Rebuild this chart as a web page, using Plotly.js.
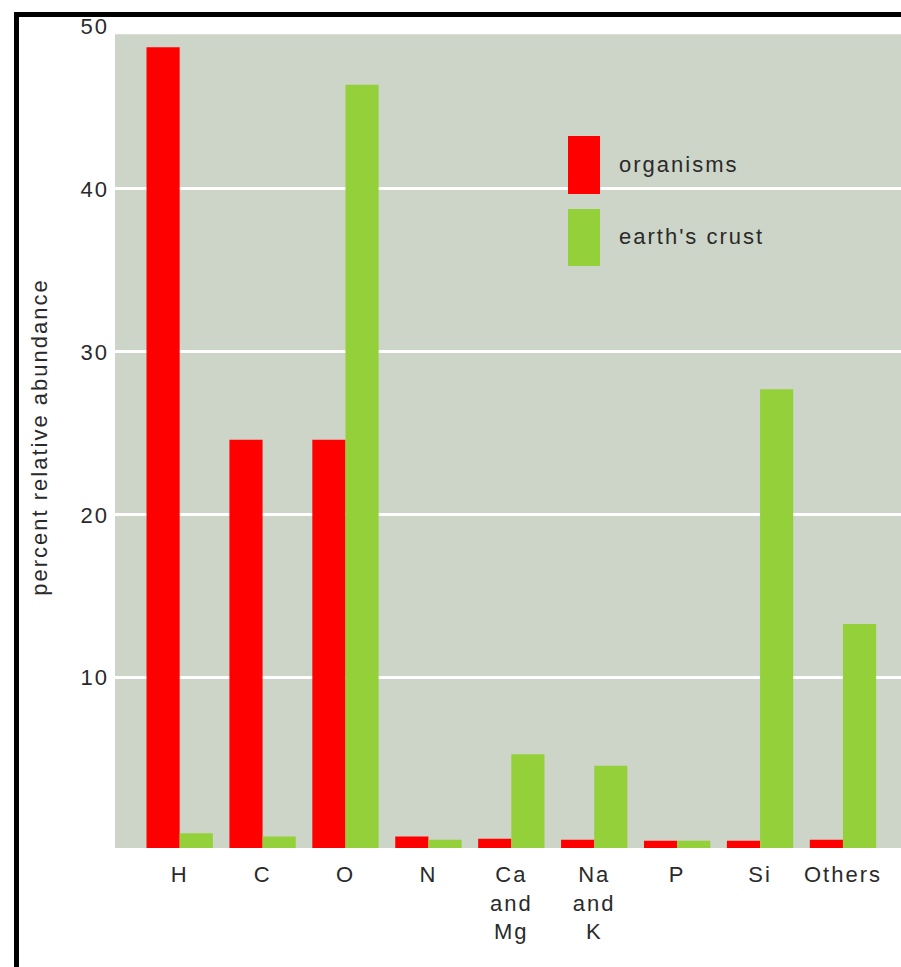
<!DOCTYPE html>
<html>
<head>
<meta charset="utf-8">
<script src="https://cdn.plot.ly/plotly-3.0.1.min.js"></script>
<style>
  html, body { margin: 0; padding: 0; background: #fff; }
  #wrap { position: relative; width: 901px; height: 967px; overflow: hidden; }
  #chart { position: absolute; left: 0; top: 0; width: 901px; height: 967px; }
  #chart text { letter-spacing: 2px; }
  #frame { position: absolute; left: 14px; top: 12px; right: -10px; bottom: -10px;
           border-left: 5px solid #000; border-top: 5px solid #000; pointer-events: none; }
</style>
</head>
<body>
<div id="wrap">
  <div id="chart"></div>
  <div id="frame"></div>
</div>
<script>
// ---- data ----
const categories = ["H", "C", "O", "N", "Ca<br>and<br>Mg", "Na<br>and<br>K", "P", "Si", "Others"];
const seriesNames = ["organisms", "earth's crust"];
const organisms = [48.7, 24.6, 24.6, 0.25, 0.12, 0.05, 0.0, 0.0, 0.05];
const earthsCrust = [0.45, 0.25, 46.4, 0.05, 5.3, 4.6, 0.0, 27.7, 13.3];
const yTickVals = [10, 20, 30, 40, 50];
const yTitle = "percent relative abundance";

// ---- styling / geometry ----
const colors = ["#ff0000", "#94d03a"];
const bg = "#cdd5c9";
const Y_FLOOR = -0.45;   // bars start at the bottom edge of the panel
const Y_TOP = 50;
const PANEL_TOP = 49.5;  // grey panel ends slightly below the 50 tick
const W = 901, H = 967;
const M = { l: 115, r: 0, t: 26, b: 119 };
const pw = W - M.l - M.r, ph = H - M.t - M.b;
const px2x = p => (p - M.l) / pw;
const py2y = p => (H - M.b - p) / ph;
const LS = 2; // letter spacing (px)

const series = [organisms, earthsCrust];
const traces = series.map((vals, i) => ({
  type: "bar",
  name: seriesNames[i],
  x: categories,
  y: vals.map(v => v - Y_FLOOR),
  base: Y_FLOOR,
  marker: { color: colors[i], line: { width: 0 } },
  showlegend: false,
  hoverinfo: "skip"
}));

const textFont = { family: "Liberation Sans, Arial, sans-serif", size: 22, color: "#2a2a2a" };

// legend built from the series names and colours
const legendShapes = [], legendAnns = [];
const swatches = [[568, 600, 136, 194], [568, 600, 209, 266]];
const labelY = [164, 237];
seriesNames.forEach((n, i) => {
  const s = swatches[i];
  legendShapes.push({ type: "rect", xref: "paper", yref: "paper",
    x0: px2x(s[0]), x1: px2x(s[1]), y0: py2y(s[3]), y1: py2y(s[2]),
    fillcolor: colors[i], line: { width: 0 }, layer: "above" });
  legendAnns.push({ xref: "paper", yref: "paper", x: px2x(617 + n.length * LS / 2), y: py2y(labelY[i]),
    xanchor: "left", yanchor: "middle", showarrow: false, text: n, font: textFont });
});

const layout = {
  width: W, height: H,
  margin: M,
  paper_bgcolor: "#ffffff",
  plot_bgcolor: "rgba(0,0,0,0)",
  barmode: "group",
  bargap: 0.2,
  bargroupgap: 0,
  showlegend: false,
  font: textFont,
  xaxis: {
    type: "category",
    range: [-0.78, 8.70],
    showgrid: false, zeroline: false, showline: false,
    ticks: "", tickfont: textFont,
    ticklabelstandoff: 11,
    fixedrange: true
  },
  yaxis: {
    range: [Y_FLOOR, Y_TOP],
    tickmode: "array", tickvals: yTickVals,
    ticktext: yTickVals.map(String),
    showgrid: true, gridcolor: "#ffffff", gridwidth: 3,
    zeroline: false, showline: false,
    ticks: "", tickfont: textFont,
    ticklabelstandoff: 5,
    title: { text: yTitle, font: textFont, standoff: 30 },
    fixedrange: true
  },
  shapes: [
    { type: "rect", xref: "paper", yref: "y", x0: 0, x1: 1, y0: Y_FLOOR, y1: PANEL_TOP,
      fillcolor: bg, line: { width: 0 }, layer: "below" }
  ].concat(legendShapes),
  annotations: legendAnns
};

Plotly.newPlot("chart", traces, layout, { displayModeBar: false, staticPlot: true });
</script>
</body>
</html>
